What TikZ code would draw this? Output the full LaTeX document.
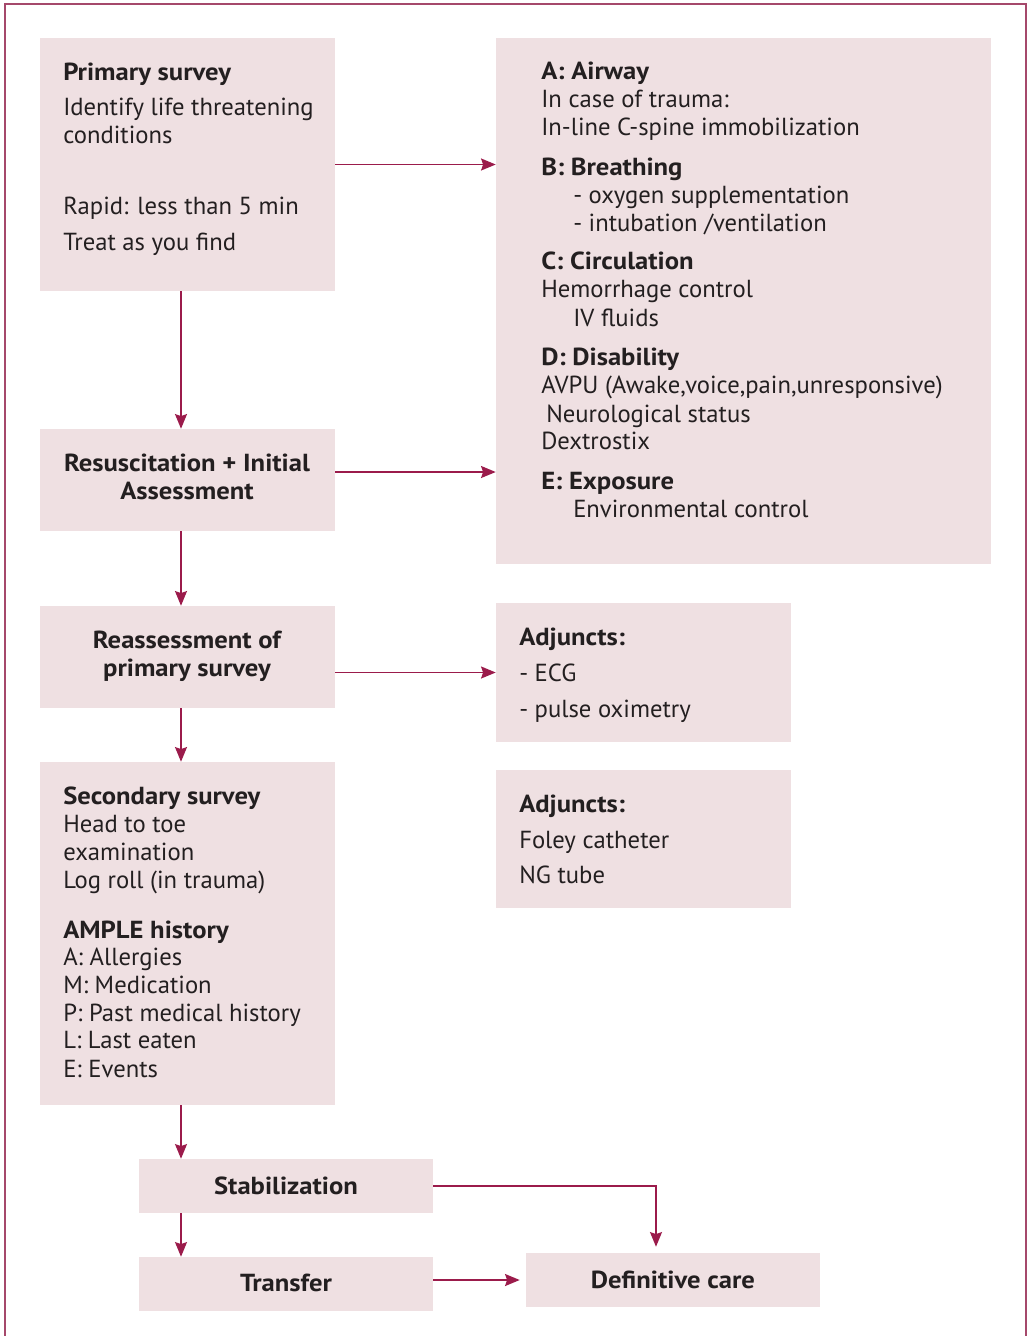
\documentclass[tikz,border=0pt]{standalone}
\usepackage{fontspec}
\setmainfont{PT Sans}[BoldFeatures={FakeStretch=1.08}]
\usetikzlibrary{arrows.meta,fit}
\definecolor{boxfill}{HTML}{EFE0E2}
\definecolor{ink}{HTML}{231F20}
\definecolor{flow}{HTML}{9B1B4B}
\definecolor{frame}{HTML}{A5486B}
\tikzset{
  box/.style={fill=boxfill, draw=none, inner sep=0pt},
  txt/.style={anchor=base west, inner sep=0pt, text=ink, font=\fontsize{18.5}{22}\selectfont},
  ctxt/.style={anchor=base, inner sep=0pt, text=ink, font=\fontsize{18.5}{22}\selectfont\bfseries},
  arr/.style={draw=flow, line width=1.1pt, -{Stealth[length=11pt, width=9pt, inset=1.5pt]}},
}
\begin{document}
\begin{tikzpicture}[x=0.75pt, y=-0.75pt]
\useasboundingbox (0,0) rectangle (1027,1336);
% outer frame, open at the bottom
\draw[frame, line width=1.1pt] (5,1336) -- (5,4) -- (1026,4) -- (1026,1336);

% boxes
\node[box, fit={(40,38) (335,291)}] (prim) {};
\node[box, fit={(496,38) (991,564)}] (abc) {};
\node[box, fit={(40,429) (335,531)}] (resus) {};
\node[box, fit={(40,606) (335,708)}] (reass) {};
\node[box, fit={(496,603) (791,742)}] (adj1) {};
\node[box, fit={(496,770) (791,908)}] (adj2) {};
\node[box, fit={(40,762) (335,1105)}] (sec) {};
\node[box, fit={(139,1159) (433,1213)}] (stab) {};
\node[box, fit={(139,1257) (433,1311)}] (trans) {};
\node[box, fit={(526,1253) (820,1307)}] (defc) {};

% primary survey
\node[txt] (p1) at (63,80) {\textbf{Primary survey}};
\node[txt] (p2) at (63,115) {Identify life threatening};
\node[txt] (p3) at (63,143) {conditions};
\node[txt] (p4) at (63,214) {Rapid: less than 5 min};
\node[txt] (p5) at (63,250) {Treat as you find};

% ABCDE
\node[txt] (a1) at (541,79) {\textbf{A: Airway}};
\node[txt] (a2) at (541,107) {In case of trauma:};
\node[txt] (a3) at (541,135) {In-line C-spine immobilization};
\node[txt] (b1) at (541,175) {\textbf{B: Breathing}};
\node[txt] (b2) at (573,203) {- oxygen supplementation};
\node[txt] (b3) at (573,231) {- intubation /ventilation};
\node[txt] (c1) at (541,269) {\textbf{C: Circulation}};
\node[txt] (c2) at (541,297) {Hemorrhage control};
\node[txt] (c3) at (573,326) {IV fluids};
\node[txt] (d1) at (541,365) {\textbf{D: Disability}};
\node[txt] (d2) at (541,393) {AVPU (Awake,voice,pain,unresponsive)};
\node[txt] (d3) at (546,422) {Neurological status};
\node[txt] (d4) at (541,449) {Dextrostix};
\node[txt] (e1) at (541,489) {\textbf{E: Exposure}};
\node[txt] (e2) at (573,517) {Environmental control};

% resuscitation and reassessment
\node[ctxt] (r1) at (187,471) {Resuscitation + Initial};
\node[ctxt] (r2) at (187,499) {Assessment};
\node[ctxt] (q1) at (187,648) {Reassessment of};
\node[ctxt] (q2) at (187,676) {primary survey};

% adjuncts
\node[txt] (j1) at (519,645) {\textbf{Adjuncts:}};
\node[txt] (j2) at (519,681) {- ECG};
\node[txt] (j3) at (519,717) {- pulse oximetry};
\node[txt] (k1) at (519,812) {\textbf{Adjuncts:}};
\node[txt] (k2) at (519,848) {Foley catheter};
\node[txt] (k3) at (519,883) {NG tube};

% secondary survey
\node[txt] (s1) at (63,804) {\textbf{Secondary survey}};
\node[txt] (s2) at (63,832) {Head to toe};
\node[txt] (s3) at (63,860) {examination};
\node[txt] (s4) at (63,888) {Log roll (in trauma)};
\node[txt] (m1) at (63,938) {\textbf{AMPLE history}};
\node[txt] (m2) at (63,965) {A: Allergies};
\node[txt] (m3) at (63,993) {M: Medication};
\node[txt] (m4) at (63,1021) {P: Past medical history};
\node[txt] (m5) at (63,1048) {L: Last eaten};
\node[txt] (m6) at (63,1077) {E: Events};

% bottom row
\node[ctxt] (t1) at (286,1194) {Stabilization};
\node[ctxt] (t2) at (286,1291) {Transfer};
\node[ctxt] (t3) at (673,1288) {Definitive care};

% connectors
\coordinate (col) at (181,0);
\coordinate (bend) at (656,0);
\draw[arr] (prim.east) -- (prim.east -| abc.west);
\draw[arr] ([yshift=6pt]resus.east) -- ([yshift=6pt]resus.east -| abc.west);
\draw[arr] (reass.east |- adj1.west) -- (adj1.west);
\draw[arr] (col |- prim.south) -- (col |- resus.north);
\draw[arr] (col |- resus.south) -- (col |- reass.north);
\draw[arr] (col |- reass.south) -- (col |- sec.north);
\draw[arr] (col |- sec.south) -- (col |- stab.north);
\draw[arr] (col |- stab.south) -- (col |- trans.north);
\draw[arr, shorten >=4.5pt] (stab.east) -- (bend |- stab.east) -- (bend |- defc.north);
\draw[arr, shorten >=4.5pt] (trans.east |- defc.west) -- (defc.west);
\end{tikzpicture}
\end{document}
